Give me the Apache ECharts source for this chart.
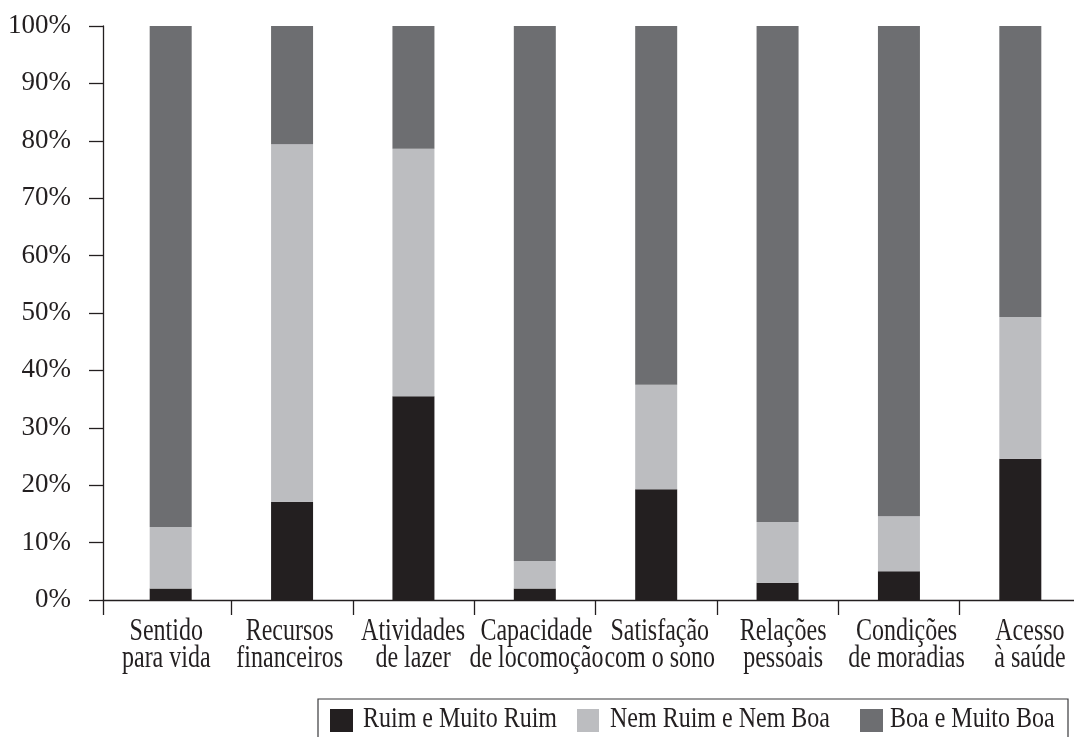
<!DOCTYPE html>
<html>
<head>
<meta charset="utf-8">
<script src="https://cdn.jsdelivr.net/npm/echarts@6/dist/echarts.min.js"></script>
<style>html,body{margin:0;padding:0;background:#fff;overflow:hidden;width:1074px;height:737px;}#c{width:1130px;height:737px;}</style>
</head>
<body>
<div id="c"></div>
<script>
const categories = ["Sentido\npara vida", "Recursos\nfinanceiros", "Atividades\nde lazer", "Capacidade\nde locomoção", "Satisfação\ncom o sono", "Relações\npessoais", "Condições\nde moradias", "Acesso\nà saúde"];
const seriesNames = ["Ruim e Muito Ruim", "Nem Ruim e Nem Boa", "Boa e Muito Boa"];
const ruim = [2.0, 17.1, 35.5, 2.0, 19.3, 3.0, 5.0, 24.6];
const nem = [10.7, 62.3, 43.1, 4.8, 18.2, 10.6, 9.6, 24.7];
const boa = [87.3, 20.6, 21.4, 93.2, 62.5, 86.4, 85.4, 50.7];
const yTickInterval = 10;

const font = '"Liberation Serif", "Times New Roman", serif';
const ink = '#231f20';
const colors = ['#231f20', '#bcbdc0', '#6d6e71'];

const chart = echarts.init(document.getElementById('c'), null, {renderer: 'canvas'});
chart.setOption({
  animation: false,
  backgroundColor: '#fff',
  textStyle: {fontFamily: font, color: ink},
  grid: [
    {left: 103, top: 26, width: 1015, height: 574, containLabel: false},
    {left: 110, top: 26, width: 971, height: 574, containLabel: false},
    {left: 104.6, top: 26, width: 987, height: 574, containLabel: false}
  ],
  xAxis: [
    {
      // baseline of the plot (y-axis foot tick included)
      type: 'value', gridIndex: 0, min: 0, max: 1, interval: 1,
      axisLine: {show: true, lineStyle: {color: ink, width: 1.3}},
      axisTick: {show: true, length: 15, lineStyle: {color: ink, width: 1.3}},
      axisLabel: {show: false}, splitLine: {show: false}
    },
    {
      type: 'category', gridIndex: 1, data: categories, boundaryGap: true,
      axisLine: {show: false},
      axisTick: {show: true, length: 15, interval: function (i) { return i !== 0; }, lineStyle: {color: ink, width: 1.3}},
      axisLabel: {show: false}
    },
    {
      type: 'category', gridIndex: 2, data: categories, boundaryGap: true,
      axisLine: {show: false}, axisTick: {show: false}, axisLabel: {show: false}
    }
  ],
  yAxis: [
    {
      type: 'value', gridIndex: 0, min: 0, max: 100, interval: yTickInterval,
      axisLine: {show: true, lineStyle: {color: ink, width: 1.3}},
      axisTick: {show: true, length: 14, lineStyle: {color: ink, width: 1.3}},
      splitLine: {show: false},
      axisLabel: {formatter: '{value}%', fontFamily: font, fontSize: 27, color: ink, margin: 32}
    },
    {type: 'value', gridIndex: 1, min: 0, max: 100, interval: yTickInterval, show: false, splitLine: {show: false}},
    {type: 'value', gridIndex: 2, min: 0, max: 100, interval: yTickInterval, show: false, splitLine: {show: false}}
  ],
  series: [
    {name: seriesNames[0], type: 'bar', stack: 'a', xAxisIndex: 1, yAxisIndex: 1, barWidth: 42, data: ruim, itemStyle: {color: colors[0]}, z: 3},
    {name: seriesNames[1], type: 'bar', stack: 'a', xAxisIndex: 1, yAxisIndex: 1, barWidth: 42, data: nem, itemStyle: {color: colors[1]}, z: 3},
    {name: seriesNames[2], type: 'bar', stack: 'a', xAxisIndex: 1, yAxisIndex: 1, barWidth: 42, data: boa, itemStyle: {color: colors[2]}, z: 3}
  ]
});

// Category labels (tall, narrow type as in the reference), placed through the category axis scale
const graphics = [];
categories.forEach(function (c) {
  const px = chart.convertToPixel({xAxisIndex: 2}, c);
  graphics.push({
    type: 'text', x: px, y: 618.6, scaleY: 1.35, silent: true,
    style: {text: c, font: '24px ' + font, fill: ink, align: 'center', verticalAlign: 'top', lineHeight: 19.5}
  });
});

// Legend box
const legendItems = [
  {sx: 330, sw: 23, tx: 363},
  {sx: 577, sw: 22, tx: 610},
  {sx: 860, sw: 23, tx: 890}
];
graphics.push({
  type: 'rect', silent: true,
  shape: {x: 318, y: 699, width: 750, height: 60},
  style: {fill: 'none', stroke: '#3a3a3c', lineWidth: 1.2}
});
seriesNames.forEach(function (n, i) {
  const it = legendItems[i];
  graphics.push({type: 'rect', silent: true, shape: {x: it.sx, y: 709, width: it.sw, height: 23}, style: {fill: colors[i]}});
  graphics.push({
    type: 'text', x: it.tx, y: 703.5, scaleY: 1.27, silent: true,
    style: {text: n, font: '24px ' + font, fill: ink, align: 'left', verticalAlign: 'top', lineHeight: 24}
  });
});
chart.setOption({graphic: graphics});
</script>
</body>
</html>
